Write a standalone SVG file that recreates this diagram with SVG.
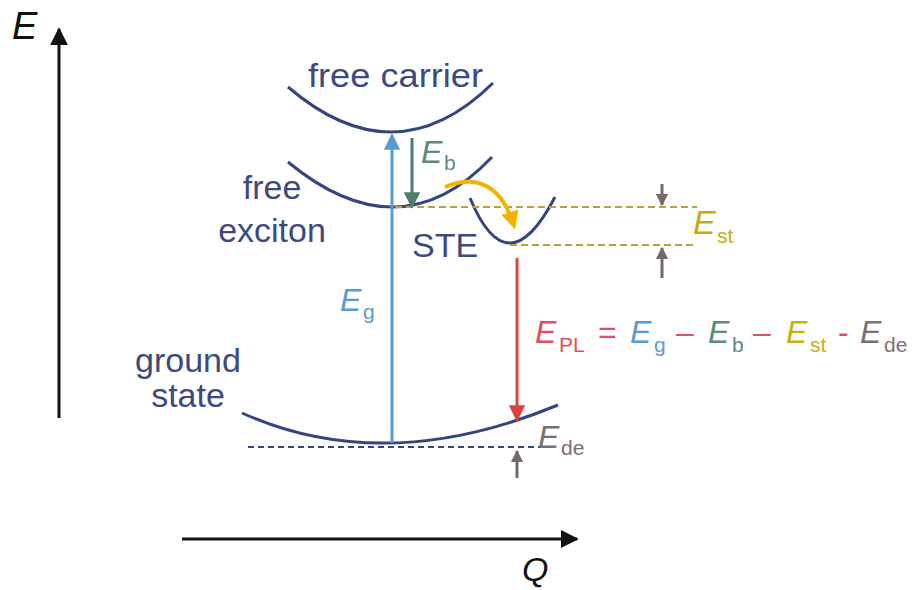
<svg xmlns="http://www.w3.org/2000/svg" width="917" height="590" viewBox="0 0 917 590">
<style>
text{font-family:"Liberation Sans",Arial,sans-serif}
.lbl{fill:#3d4a80;font-size:34px}
.curve{fill:none;stroke:#34447f;stroke-width:3}
.it{font-style:italic}
.sub{font-size:21px}
.big{font-size:32px}
</style>
<defs>
<marker id="mBlack" viewBox="0 0 10 10" refX="9" refY="5" markerWidth="6" markerHeight="6" orient="auto" markerUnits="strokeWidth"><path d="M0,0 L10,5 L0,10 z" fill="#111"/></marker>
<marker id="mBlue" viewBox="0 0 10 10" refX="9" refY="5" markerWidth="5.5" markerHeight="5.5" orient="auto" markerUnits="strokeWidth"><path d="M0,0 L10,5 L0,10 z" fill="#5b9bd5"/></marker>
<marker id="mGreen" viewBox="0 0 10 10" refX="9" refY="5" markerWidth="5.5" markerHeight="5.5" orient="auto" markerUnits="strokeWidth"><path d="M0,0 L10,5 L0,10 z" fill="#4e7d6e"/></marker>
<marker id="mRed" viewBox="0 0 10 10" refX="9" refY="5" markerWidth="5.5" markerHeight="5.5" orient="auto" markerUnits="strokeWidth"><path d="M0,0 L10,5 L0,10 z" fill="#e0413a"/></marker>
<marker id="mYellow" viewBox="0 0 10 10" refX="8" refY="5" markerWidth="4.5" markerHeight="4.5" orient="auto" markerUnits="strokeWidth"><path d="M0,0 L10,5 L0,10 z" fill="#f2b400"/></marker>
<marker id="mGray" viewBox="0 0 10 10" refX="9" refY="5" markerWidth="4.2" markerHeight="4.2" orient="auto" markerUnits="strokeWidth"><path d="M0,0 L10,5 L0,10 z" fill="#76686a"/></marker>
</defs>

<g id="axes">
<line x1="59" y1="418" x2="59" y2="29" stroke="#111" stroke-width="3" marker-end="url(#mBlack)"/>
<text x="12" y="39" class="it" font-size="38" fill="#111">E</text>
<line x1="182" y1="539" x2="577" y2="539" stroke="#111" stroke-width="3" marker-end="url(#mBlack)"/>
<text x="522" y="581" class="it" font-size="34" fill="#111">Q</text>
</g>

<g id="free-carrier">
<path class="curve" d="M288,87 Q395.5,179 493,83"/>
<text class="lbl" x="308" y="87" textLength="175" lengthAdjust="spacingAndGlyphs">free carrier</text>
</g>

<g id="free-exciton">
<path class="curve" d="M288,162 Q400,254.5 492,157"/>
<text class="lbl" x="272" y="199" text-anchor="middle">free</text>
<text class="lbl" x="272" y="242" text-anchor="middle">exciton</text>
</g>

<g id="ste">
<path class="curve" d="M470,198 Q507.5,288.5 555,197"/>
<text class="lbl" x="412" y="257">STE</text>
</g>

<g id="ground-state">
<path class="curve" d="M242,413 Q384,477 558,405"/>
<text class="lbl" x="188" y="372" text-anchor="middle">ground</text>
<text class="lbl" x="188" y="407" text-anchor="middle">state</text>
</g>

<g id="connectors">
<line x1="248" y1="447" x2="557" y2="447" stroke="#34447f" stroke-width="1.8" stroke-dasharray="6,4"/>
<line x1="395" y1="207" x2="697" y2="207" stroke="#b3a53a" stroke-width="2" stroke-dasharray="7,4"/>
<line x1="510" y1="245" x2="697" y2="245" stroke="#b3a53a" stroke-width="2" stroke-dasharray="7,4"/>
<line x1="392" y1="443" x2="392" y2="135" stroke="#5b9bd5" stroke-width="3" marker-end="url(#mBlue)"/>
<line x1="412" y1="138" x2="412" y2="207" stroke="#4e7d6e" stroke-width="3" marker-end="url(#mGreen)"/>
<line x1="517" y1="258" x2="517" y2="420" stroke="#e0413a" stroke-width="3" marker-end="url(#mRed)"/>
<path d="M445,187 C472,176 500,180 514,226" fill="none" stroke="#f2b400" stroke-width="4" marker-end="url(#mYellow)"/>
<line x1="662" y1="184" x2="662" y2="205" stroke="#76686a" stroke-width="3" marker-end="url(#mGray)"/>
<line x1="662" y1="278" x2="662" y2="248" stroke="#76686a" stroke-width="3" marker-end="url(#mGray)"/>
<line x1="517" y1="478" x2="517" y2="451" stroke="#76686a" stroke-width="3" marker-end="url(#mGray)"/>
</g>

<g id="labels">
<text x="340" y="311" class="it big" fill="#5b9bd5">E</text><text x="363" y="319" class="sub" fill="#5b9bd5">g</text>
<text x="421" y="163" class="it big" fill="#5e8a7a">E</text><text x="444" y="170" class="sub" fill="#5e8a7a">b</text>
<text x="693" y="234" class="it" font-size="34" fill="#c9aa10">E</text><text x="717" y="243" class="sub" fill="#c9aa10">st</text>
<text x="538" y="448" class="it big" fill="#7b6f70">E</text><text x="561" y="455" class="sub" fill="#7b6f70">de</text>
</g>

<g id="formula">
<text x="535" y="343" class="it big" fill="#e0505a">E</text><text x="559" y="352" class="sub" fill="#e0505a">PL</text>
<text x="598" y="343" class="big" fill="#e0505a">=</text>
<text x="630" y="343" class="it big" fill="#5b9bd5">E</text><text x="654" y="352" class="sub" fill="#5b9bd5">g</text>
<text x="676" y="343" class="big" fill="#e0505a">–</text>
<text x="708" y="343" class="it big" fill="#5e8a7a">E</text><text x="732" y="352" class="sub" fill="#5e8a7a">b</text>
<text x="753" y="343" class="big" fill="#e0505a">–</text>
<text x="786" y="343" class="it big" fill="#c9b010">E</text><text x="810" y="352" class="sub" fill="#c9b010">st</text>
<text x="838" y="343" class="big" fill="#e0505a">-</text>
<text x="860" y="343" class="it big" fill="#7b6f70">E</text><text x="884" y="352" class="sub" fill="#7b6f70">de</text>
</g>
</svg>
